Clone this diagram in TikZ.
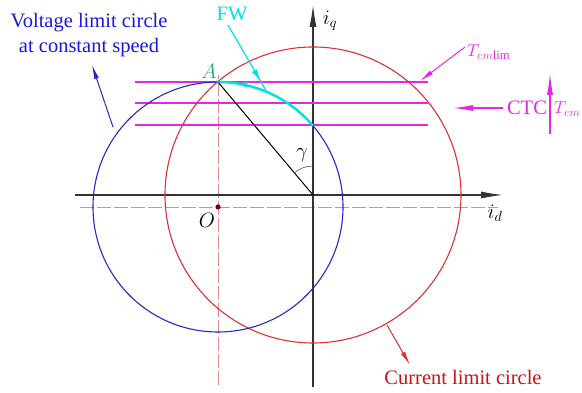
\documentclass[tikz,border=0pt]{standalone}
\usepackage{fontspec}
\setmainfont{Liberation Serif}
\usetikzlibrary{arrows.meta,decorations.markings,calc}
\definecolor{cred}{RGB}{220,50,50}
\definecolor{cblue}{RGB}{40,40,200}
\definecolor{cmag}{RGB}{230,40,230}
\definecolor{ccyan}{RGB}{0,225,225}
\definecolor{cdash}{RGB}{225,140,140}
\definecolor{tblue}{RGB}{25,25,215}
\definecolor{tred}{RGB}{200,20,20}
\definecolor{cgreen}{RGB}{40,170,110}
\definecolor{cdot}{RGB}{120,0,0}
\tikzset{
  axis/.style={line width=1.1pt,draw=black!80,-{Latex[length=22pt,width=7pt]}},
  dashref/.style={cdash,line width=0.9pt,dash pattern=on 14pt off 3pt},
  ctcline/.style={cmag,line width=1.4pt},
  bigtext/.style={font=\fontsize{20.5}{24}\selectfont,inner sep=0pt},
  mathlabel/.style={font=\fontsize{19.5}{22}\selectfont,inner sep=0pt},
  tlabel/.style={font=\fontsize{18}{21}\selectfont,inner sep=0pt},
  thinarrow/.style={line width=1pt,-{Latex[length=14pt,width=5pt]}},
  midarrow/.style={postaction={decorate},decoration={markings,mark=at position #1 with {\arrow{Latex[length=13pt,width=6pt]}}}}
}
\begin{document}
\begin{tikzpicture}[x=1pt,y=1pt]
\useasboundingbox (0,0) rectangle (582,393);
% reference points
\coordinate (org) at (313,198);
\coordinate (O) at (218,186);
\coordinate (A) at (218,311);
% dashed reference lines through O
\draw[dashref] (218,8) -- (218,318);
\draw[dashref] (80,186) -- (498,186);
% axes
\coordinate (xs) at (75,198);
\coordinate (xe) at (503,198);
\coordinate (ys) at (313,6);
\coordinate (ye) at (313,388);
\draw[axis] (xs) -- (xe);
\draw[axis] (ys) -- (ye);
\node[mathlabel] (id) at (495,180) {$i_d$};
\node[mathlabel] (iq) at (330,372) {$i_q$};
% constant torque lines
\coordinate (l1s) at (135,311); \coordinate (l1e) at (428,311);
\coordinate (l2s) at (135,290); \coordinate (l2e) at (428,290);
\coordinate (l3s) at (135,268); \coordinate (l3e) at (428,268);
\draw[ctcline] (l1s) -- (l1e);
\draw[ctcline] (l2s) -- (l2e);
\draw[ctcline] (l3s) -- (l3e);
% circles
\draw[cred,line width=1.1pt] (org) circle[radius=148];
\draw[cblue,line width=1.1pt] (O) circle[radius=125];
% FW trajectory along voltage circle
\coordinate (fws) at ($(O)+(40.5:125)$);
\draw[ccyan,line width=2.4pt,midarrow=0.85] (fws) arc[start angle=40.5,end angle=90,radius=125];
% current vector
\draw[black,line width=1pt] (A) -- (org);
\coordinate (gs) at ($(org)+(0,29)$);
\draw[black!70,line width=0.6pt] (gs) arc[start angle=90,end angle=130.1,radius=29];
\node[mathlabel] (gam) at (302,238) {$\gamma$};
% point O
\fill[cdot] (O) circle[radius=2.6];
\node[mathlabel] (Olab) at (207,173) {$O$};
\fill[cgreen] (A) circle[radius=1.8];
\node[mathlabel,text=cgreen] (Alab) at (209,322) {$A$};
% FW label and arrow
\node[bigtext,text=ccyan] (fw) at (232,379) {FW};
\coordinate (fwb) at (228,368);
\coordinate (fwe) at (266.8,301.1);
\draw[ccyan,line width=1.2pt,midarrow=0.85] (fwb) -- (fwe);
% voltage label
\node[bigtext,text=tblue,anchor=base] (v1) at (89,365) {Voltage limit circle};
\node[bigtext,text=tblue,anchor=base] (v2) at (89,340) {at constant speed};
\coordinate (vs) at (113,266);
\coordinate (vt) at (92,328);
\draw[cblue,thinarrow] (vs) -- (vt);
% current label
\node[bigtext,text=tred,anchor=base] (cl) at (463,8) {Current limit circle};
\coordinate (cs) at (387,68);
\coordinate (ct) at (410,28);
\draw[cred,thinarrow] (cs) -- (ct);
% Tem lim
\node[tlabel,text=cmag,anchor=base west] (tlim) at (467,336) {$T_{em\mathrm{lim}}$};
\coordinate (tls) at (465,346);
\coordinate (tlt) at (420,312);
\draw[cmag,thinarrow] (tls) -- (tlt);
% CTC
\node[bigtext,text=cmag] (ctc) at (527,285) {CTC};
\coordinate (ctcs) at (503,285);
\coordinate (ctct) at (453,285);
\draw[cmag,line width=1.2pt,-{Latex[length=20pt,width=6pt]}] (ctcs) -- (ctct);
\coordinate (tvs) at (550,259);
\coordinate (tvt) at (550,320);
\draw[cmag,line width=1.2pt,-{Latex[length=22pt,width=6pt]}] (tvs) -- (tvt);
\node[tlabel,text=cmag,anchor=base west] (tem) at (554,279) {$T_{em}$};
\end{tikzpicture}
\end{document}
